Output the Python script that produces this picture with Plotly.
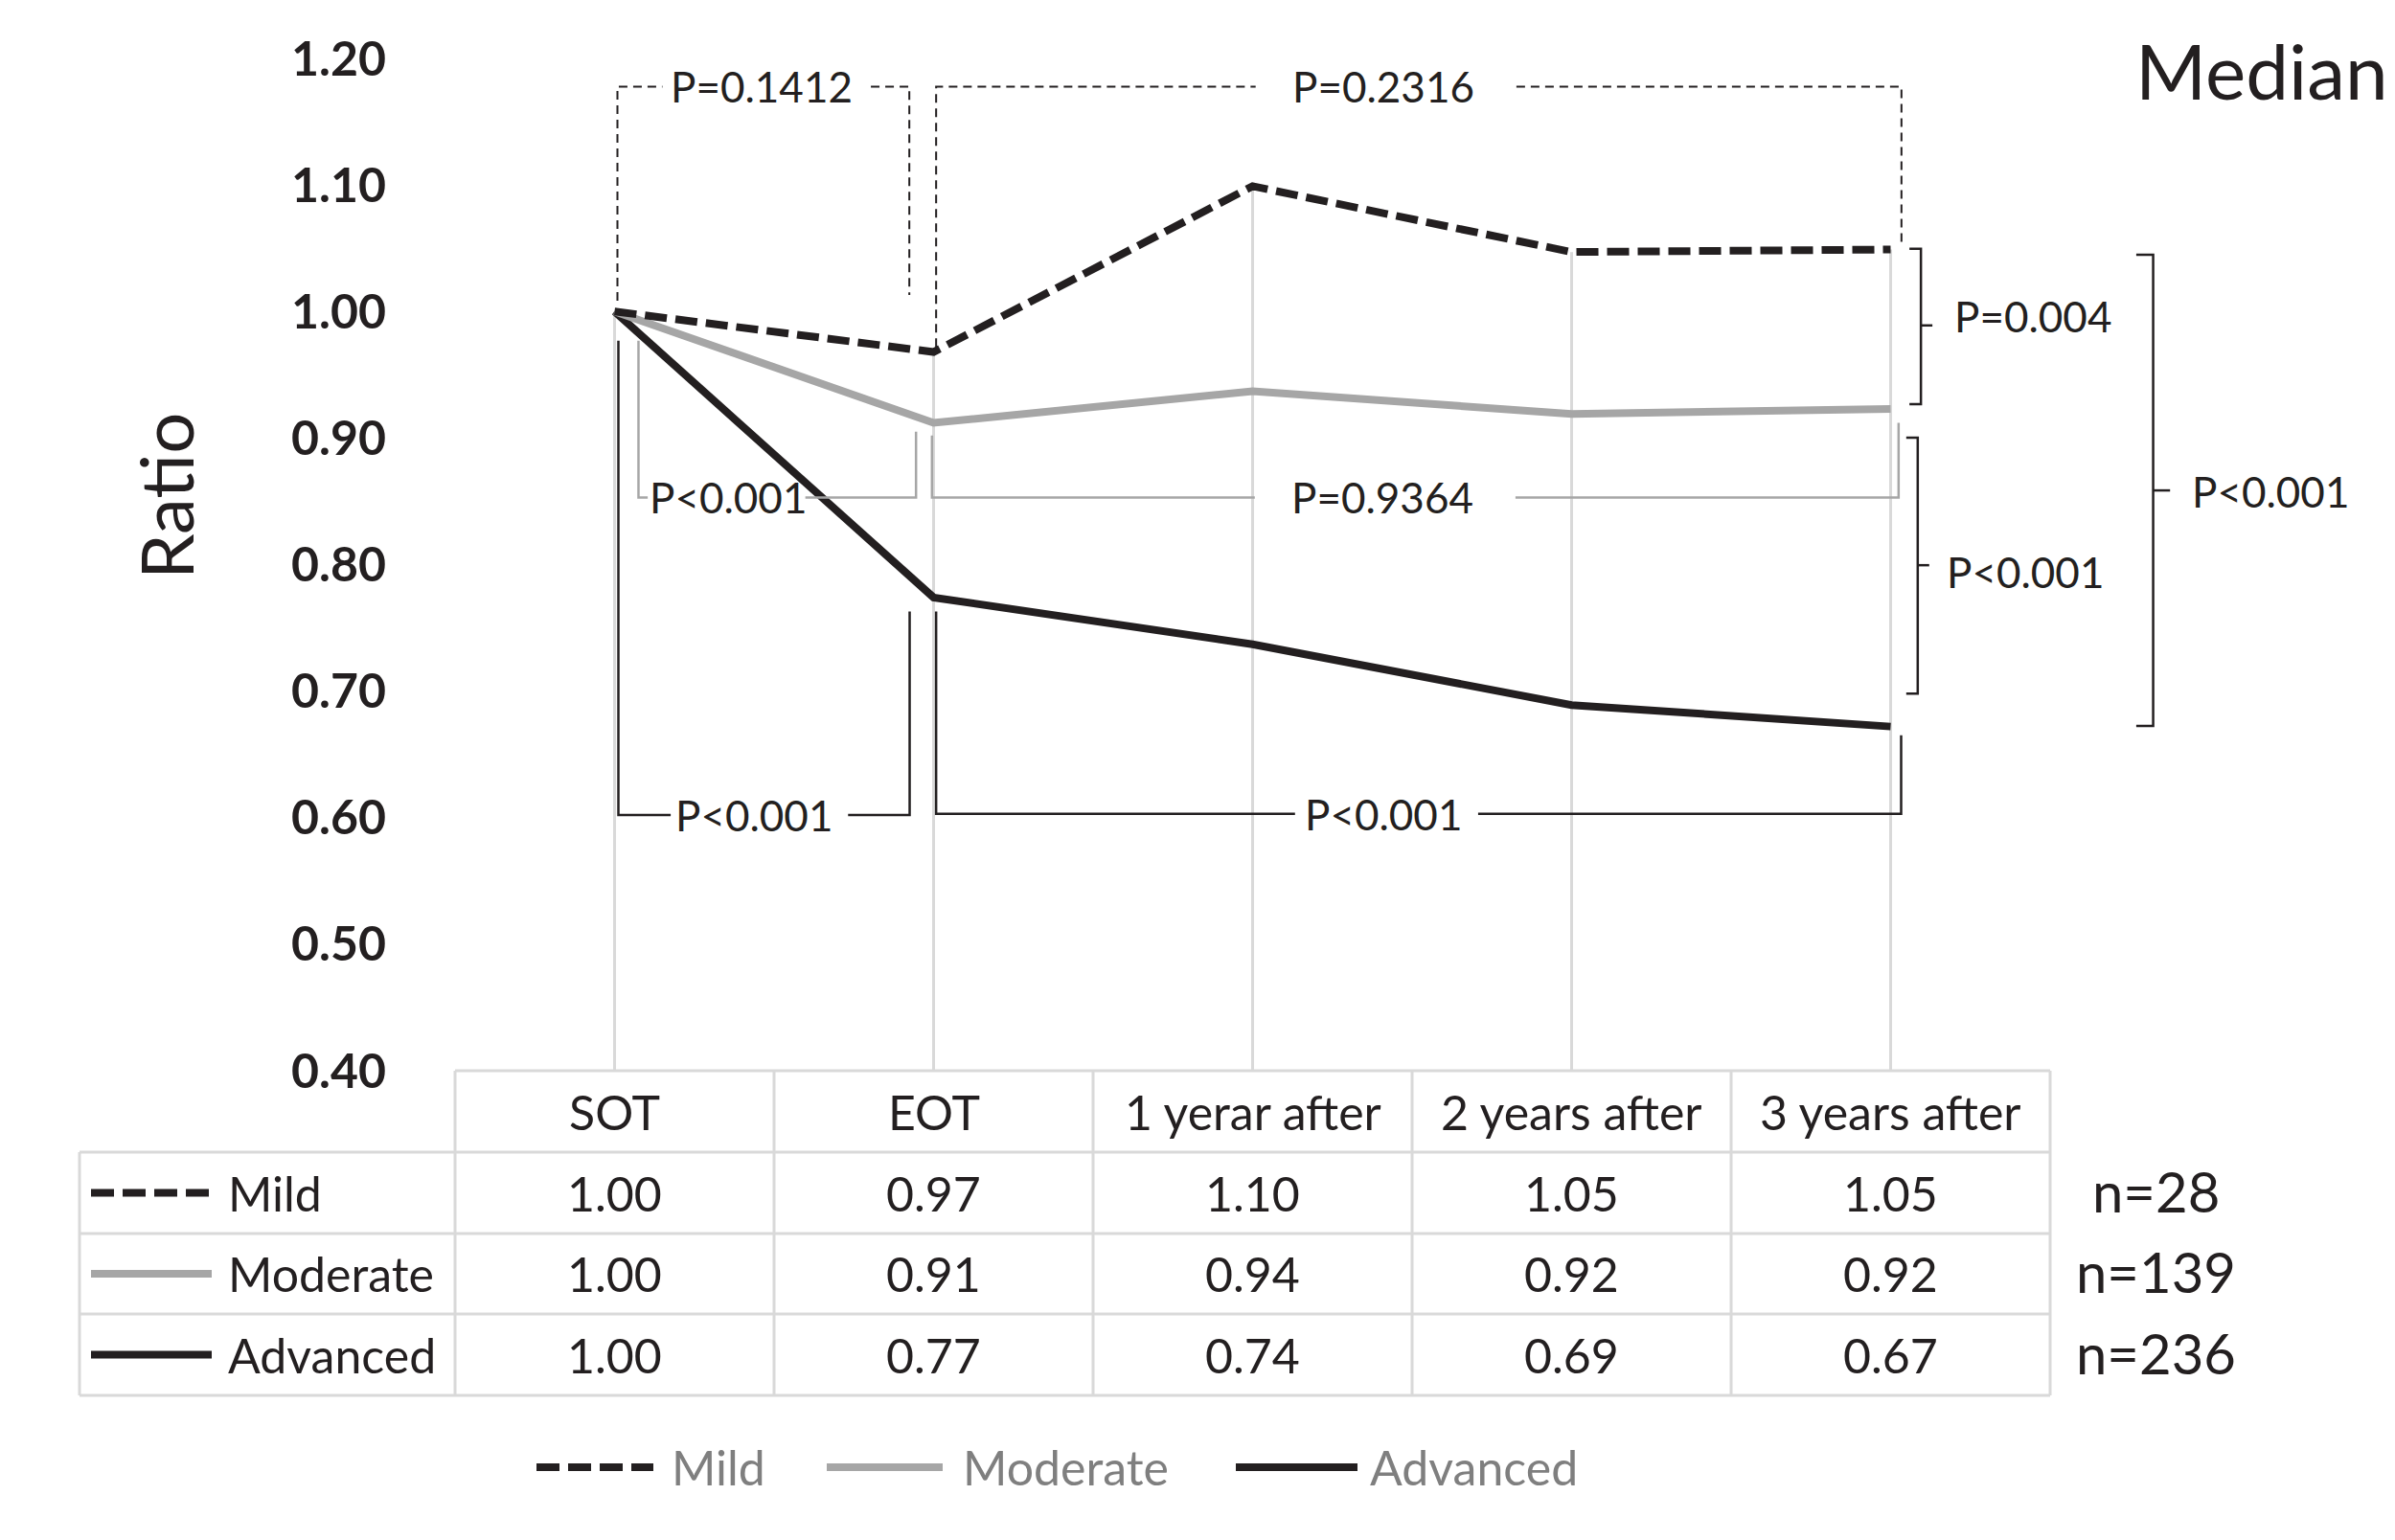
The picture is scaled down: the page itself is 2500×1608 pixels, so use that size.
import plotly.graph_objects as go

# ---------------- data ----------------
categories = ["SOT", "EOT", "1 yerar after", "2 years after", "3 years after"]
groups = ["Mild", "Moderate", "Advanced"]
mild = [1.000, 0.968, 1.099, 1.047, 1.049]
moderate = [1.000, 0.912, 0.937, 0.919, 0.923]
advanced = [1.000, 0.774, 0.737, 0.689, 0.672]
n_counts = [28, 139, 236]
y_ticks = [0.40, 0.50, 0.60, 0.70, 0.80, 0.90, 1.00, 1.10, 1.20]
title_text = "Median"
y_title = "Ratio"

# ---------------- style / layout ----------------
W, H = 2500, 1608
L, R, T, B = 475, 360, 61, 490
PW, PH = W - L - R, H - T - B
FONT = "Lato"
DARK = "#231f20"
GRAY = "#a6a6a6"
GRID = "#d9d9d9"
series = [
    dict(name=groups[0], y=mild, color=DARK, dash="23px,9px"),
    dict(name=groups[1], y=moderate, color=GRAY, dash="solid"),
    dict(name=groups[2], y=advanced, color=DARK, dash="solid"),
]
legend_dash = ["24px,9px", "solid", "solid"]
x = list(range(len(categories)))
YMIN, YMAX = y_ticks[0], y_ticks[-1]


def pxp(px):
    return (px - L) / PW


def pyp(py):
    return (H - B - py) / PH


def xp(xv):
    return (xv + 0.5) / len(categories)


def yp(yv):
    return (yv - YMIN) / (YMAX - YMIN)


fig = go.Figure()

# drop lines (from the highest value of each category down to the axis)
dx, dy = [], []
for i in x:
    top = max(s["y"][i] for s in series)
    dx += [i, i, None]
    dy += [top, YMIN, None]
fig.add_trace(go.Scatter(x=dx, y=dy, mode="lines", line=dict(color=GRID, width=3),
                         hoverinfo="skip", showlegend=False))

for s in series[::-1]:
    fig.add_trace(go.Scatter(x=x, y=s["y"], name=s["name"], mode="lines",
                             line=dict(color=s["color"], width=8, dash=s["dash"]),
                             showlegend=False))


def path_shape(pts, color, width, dash="solid", xref="x", yref="y"):
    d = "M " + " L ".join(f"{a},{b}" for a, b in pts)
    fig.add_shape(type="path", path=d, xref=xref, yref=yref, layer="above",
                  line=dict(color=color, width=width, dash=dash))


def label(xv, yv, text, xanchor="center", size=44, xref="x", yref="y", color=DARK):
    fig.add_annotation(x=xv, y=yv, xref=xref, yref=yref, text=text, showarrow=False,
                       xanchor=xanchor, yanchor="middle",
                       font=dict(family=FONT, size=size, color=color))


# ---------- comparison brackets (between time points) ----------
brackets = [
    # (left leg, left y, right leg, right y, level, gap start, gap end, text, color, width, dash)
    (0.009, 1.0085, 0.924, 1.013, 1.1777, 0.150, 0.8035, "P=0.1412", DARK, 2, "9px,6px"),
    (1.008, 0.972, 4.034, 1.053, 1.1777, 2.0096, 2.827, "P=0.2316", DARK, 2, "9px,6px"),
    (0.075, 0.977, 0.945, 0.905, 0.853, 0.104, 0.598, "P<0.001", GRAY, 2.5, "solid"),
    (0.995, 0.902, 4.025, 0.912, 0.853, 2.007, 2.824, "P=0.9364", GRAY, 2.5, "solid"),
    (0.012, 0.977, 0.925, 0.763, 0.602, 0.176, 0.732, "P<0.001", DARK, 2.5, "solid"),
    (1.008, 0.763, 4.033, 0.665, 0.603, 2.133, 2.707, "P<0.001", DARK, 2.5, "solid"),
]
label_x = [0.461, 2.411, 0.356, 2.408, 0.436, 2.41]
for (xl, yl, xr, yr, lev, g0, g1, txt, col, wd, ds), lx in zip(brackets, label_x):
    path_shape([(xl, yl), (xl, lev), (g0, lev)], col, wd, ds)
    path_shape([(g1, lev), (xr, lev), (xr, yr)], col, wd, ds)
    label(lx, lev, txt)

# ---------- group comparison brackets at the right ----------
rbrackets = [
    # x, top, bottom, tick y, serif, text x, text y, text
    (4.095, 1.0495, 0.9267, 0.989, 0.036, 4.193, 0.9964, "P=0.004"),
    (4.085, 0.9002, 0.6981, 0.7995, 0.036, 4.171, 0.7945, "P<0.001"),
    (4.823, 1.0448, 0.6724, 0.8586, 0.053, 4.938, 0.858, "P<0.001"),
]
for bx, top, bot, ty, sl, tx, tyy, txt in rbrackets:
    path_shape([(xp(bx - sl), yp(top)), (xp(bx), yp(top)), (xp(bx), yp(bot)),
                (xp(bx - sl), yp(bot))], DARK, 2.5, xref="paper", yref="paper")
    path_shape([(xp(bx), yp(ty)), (xp(bx + sl), yp(ty))], DARK, 2.5,
               xref="paper", yref="paper")
    label(xp(tx), yp(tyy), txt, xanchor="left", xref="paper", yref="paper")

# ---------- data table ----------
row_edges = [1118, 1203, 1288, 1372, 1457]
legend_left = 83
ncat = len(categories)
line_kw = dict(color=GRID, width=3)
fig.add_shape(type="line", xref="paper", yref="paper", x0=0, x1=1,
              y0=pyp(row_edges[0]), y1=pyp(row_edges[0]), line=line_kw)
for r in row_edges[1:]:
    fig.add_shape(type="line", xref="paper", yref="paper", x0=pxp(legend_left), x1=1,
                  y0=pyp(r), y1=pyp(r), line=line_kw)
for k in range(ncat + 1):
    fig.add_shape(type="line", xref="paper", yref="paper", x0=k / ncat, x1=k / ncat,
                  y0=pyp(row_edges[0]), y1=pyp(row_edges[-1]), line=line_kw)
fig.add_shape(type="line", xref="paper", yref="paper", x0=pxp(legend_left), x1=pxp(legend_left),
              y0=pyp(row_edges[1]), y1=pyp(row_edges[-1]), line=line_kw)


def row_mid(i):
    return pyp((row_edges[i] + row_edges[i + 1]) / 2)


for i, c in enumerate(categories):
    label(xp(i), row_mid(0), c, size=50, xref="paper", yref="paper")
for g, s in enumerate(series):
    for i, v in enumerate(s["y"]):
        label(xp(i), row_mid(g + 1), f"{v:.2f}", size=50, xref="paper", yref="paper")
    fig.add_shape(type="line", xref="paper", yref="paper", x0=pxp(95), x1=pxp(221),
                  y0=row_mid(g + 1), y1=row_mid(g + 1),
                  line=dict(color=s["color"], width=8, dash=legend_dash[g]))
    label(pxp(236), row_mid(g + 1), s["name"], xanchor="left", size=50,
          xref="paper", yref="paper")
    label(pxp(2250), row_mid(g + 1) + 0.002, f"n={n_counts[g]}", size=58,
          xref="paper", yref="paper")

# ---------- bottom legend ----------
leg_y = pyp(1532)
leg_items = [(560, 682, 699), (863, 984, 1003), (1290, 1417, 1428)]
for s, dsh, (a, b, t) in zip(series, legend_dash, leg_items):
    fig.add_shape(type="line", xref="paper", yref="paper", x0=pxp(a), x1=pxp(b),
                  y0=leg_y, y1=leg_y, line=dict(color=s["color"], width=8, dash=dsh))
    label(pxp(t), leg_y, s["name"], xanchor="left", size=50, xref="paper", yref="paper",
          color="#7f7f7f")

# ---------- titles ----------
fig.add_annotation(x=pxp(2495), y=pyp(73), xref="paper", yref="paper", text=title_text,
                   showarrow=False, xanchor="right", yanchor="middle",
                   font=dict(family=FONT, size=80, color=DARK))
fig.add_annotation(x=pxp(172), y=pyp(518), xref="paper", yref="paper", text=y_title,
                   showarrow=False, textangle=-90, xanchor="center", yanchor="middle",
                   font=dict(family=FONT, size=76, color=DARK))

fig.update_xaxes(range=[-0.5, ncat - 0.5], showticklabels=False, showgrid=False,
                 zeroline=False, showline=False, ticks="")
fig.update_yaxes(range=[YMIN, YMAX], tickvals=y_ticks, tickformat=".2f", showgrid=False,
                 zeroline=False, showline=False, ticks="", ticklabelstandoff=71,
                 tickfont=dict(family=FONT, size=50, color=DARK, weight="bold"))
fig.update_layout(width=W, height=H, margin=dict(l=L, r=R, t=T, b=B, autoexpand=False),
                  paper_bgcolor="white", plot_bgcolor="white", showlegend=False)

fig.write_html("out.html", config={"displayModeBar": False},
               post_script="document.body.style.margin='0px';")
